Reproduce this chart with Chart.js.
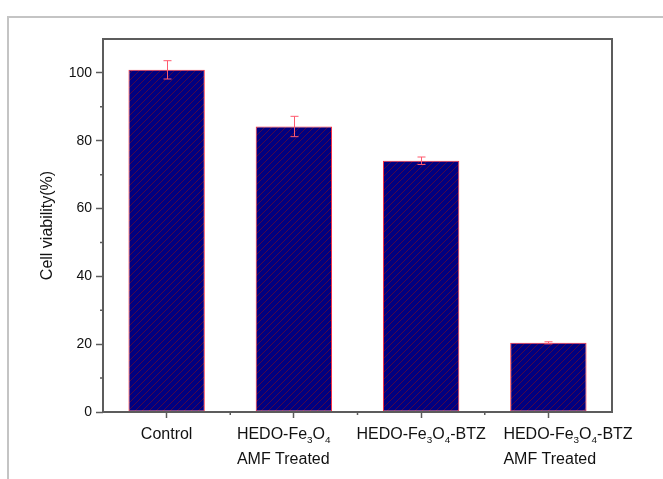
<!DOCTYPE html>
<html>
<head>
<meta charset="utf-8">
<script src="https://cdn.jsdelivr.net/npm/chart.js@4/dist/chart.umd.min.js"></script>
<style>
  html, body { margin: 0; padding: 0; background: #fff; }
  #wrap { position: relative; width: 663px; height: 479px; overflow: hidden; }
  #frame { position: absolute; left: 7px; top: 16px; width: 700px; height: 500px;
           border-left: 2px solid #c4c4c4; border-top: 2px solid #c4c4c4; }
  #chart { position: absolute; left: 0; top: 0; }
</style>
</head>
<body>
<div id="wrap">
  <div id="frame"></div>
  <canvas id="chart" width="663" height="479"></canvas>
</div>
<script>
// Cell viability after each treatment (mean and standard deviation, %)
const categories = [
  ["Control"],
  ["HEDO-Fe₃O₄", "AMF Treated"],
  ["HEDO-Fe₃O₄-BTZ"],
  ["HEDO-Fe₃O₄-BTZ", "AMF Treated"]
];
const viability = [100.9, 84.2, 74.1, 20.4];
const viabilityError = [2.7, 3.0, 1.1, 0.3];
const yTicks = [0, 20, 40, 60, 80, 100];
const yMinorTicks = [10, 30, 50, 70, 90];
const yTitle = "Cell viability(%)";

const AXIS = "#5c5c5c";
const FONT = "'Liberation Sans', Arial, sans-serif";

// navy fill with thin dark-red diagonal hatching
function hatchPattern() {
  const s = 7;
  const c = document.createElement("canvas");
  c.width = s; c.height = s;
  const g = c.getContext("2d");
  g.fillStyle = "#000080";
  g.fillRect(0, 0, s, s);
  g.fillStyle = "#4a0846";
  // one pixel per row gives a crisp "/" stripe
  for (let r = 0; r < s; r++) g.fillRect(s - 1 - r, r, 1, 1);
  return g.createPattern(c, "repeat");
}

const subMap = { "₀":"0","₁":"1","₂":"2","₃":"3","₄":"4","₅":"5","₆":"6","₇":"7","₈":"8","₉":"9" };

// split a line into normal / subscript runs
function runs(text) {
  const out = [];
  for (const ch of text) {
    const sub = ch in subMap;
    const c = sub ? subMap[ch] : ch;
    if (out.length && out[out.length - 1].sub === sub) out[out.length - 1].t += c;
    else out.push({ t: c, sub });
  }
  return out;
}

const frameBox = {
  id: "frameBox",
  afterDatasetsDraw(chart) {
    const { ctx, chartArea: a, scales } = chart;
    const x = scales.x, y = scales.y;
    ctx.save();

    // error bars
    ctx.strokeStyle = "#ff5a6e";
    ctx.lineWidth = 1;
    viability.forEach((v, i) => {
      const px = Math.round(x.getPixelForValue(i)) + 0.5;
      const top = y.getPixelForValue(v + viabilityError[i]);
      const bot = y.getPixelForValue(v - viabilityError[i]);
      ctx.beginPath();
      ctx.moveTo(px, top); ctx.lineTo(px, bot);
      ctx.moveTo(px - 4, top); ctx.lineTo(px + 4, top);
      ctx.moveTo(px - 4, bot); ctx.lineTo(px + 4, bot);
      ctx.stroke();
    });

    // minor ticks
    ctx.strokeStyle = AXIS;
    ctx.lineWidth = 1.5;
    ctx.beginPath();
    yMinorTicks.forEach(v => {
      const py = y.getPixelForValue(v);
      ctx.moveTo(a.left - 3, py); ctx.lineTo(a.left, py);
    });
    for (let i = 0; i < categories.length - 1; i++) {
      const px = (x.getPixelForValue(i) + x.getPixelForValue(i + 1)) / 2;
      ctx.moveTo(px, a.bottom); ctx.lineTo(px, a.bottom + 3);
    }
    ctx.stroke();

    // axis box
    ctx.lineWidth = 2;
    ctx.strokeRect(a.left, a.top, a.right - a.left, a.bottom - a.top);

    // category labels with subscripts
    ctx.fillStyle = "#111";
    ctx.textBaseline = "alphabetic";
    const size = 16;
    const labelOffsets = [null, -57, null, -45];
    categories.forEach((lines, i) => {
      const cx = x.getPixelForValue(i);
      lines.forEach((line, li) => {
        const parts = runs(line);
        let w = 0;
        parts.forEach(p => {
          ctx.font = (p.sub ? size * 0.62 : size) + "px " + FONT;
          p.w = ctx.measureText(p.t).width;
          w += p.w;
        });
        let px = labelOffsets[i] === null ? cx - w / 2 : cx + labelOffsets[i];
        const base = a.bottom + 27 + li * 25;
        parts.forEach(p => {
          ctx.font = (p.sub ? size * 0.62 : size) + "px " + FONT;
          ctx.fillText(p.t, px, p.sub ? base + 4 : base);
          px += p.w;
        });
      });
    });
    ctx.restore();
  }
};

new Chart(document.getElementById("chart"), {
  type: "bar",
  data: {
    labels: categories,
    datasets: [{
      data: viability,
      backgroundColor: hatchPattern(),
      borderColor: "#ff2a3a",
      borderWidth: 1,
      borderSkipped: false,
      barPercentage: 0.6,
      categoryPercentage: 1.0
    }]
  },
  options: {
    responsive: false,
    animation: false,
    layout: { padding: { top: 39, right: 51, left: 0, bottom: 0 } },
    plugins: { legend: { display: false }, tooltip: { enabled: false } },
    scales: {
      x: {
        offset: true,
        grid: { offset: false, drawOnChartArea: false, tickLength: 6, tickColor: AXIS, tickWidth: 1.5 },
        border: { display: false },
        ticks: { display: false },
        afterFit(s) { s.height = 67; }
      },
      y: {
        min: 0,
        max: 110,
        afterBuildTicks(s) { s.ticks = yTicks.map(v => ({ value: v })); },
        ticks: {
          color: "#111",
          padding: 4,
          font: { family: FONT, size: 14 },
          callback: v => String(v)
        },
        grid: { drawOnChartArea: false, tickLength: 7, tickColor: AXIS, tickWidth: 1.5 },
        border: { display: false },
        title: {
          display: true,
          text: yTitle,
          color: "#111",
          font: { family: FONT, size: 16 },
          padding: { top: 38, bottom: 0 }
        },
        afterFit(s) { s.width = 103; }
      }
    }
  },
  plugins: [frameBox]
});
</script>
</body>
</html>
